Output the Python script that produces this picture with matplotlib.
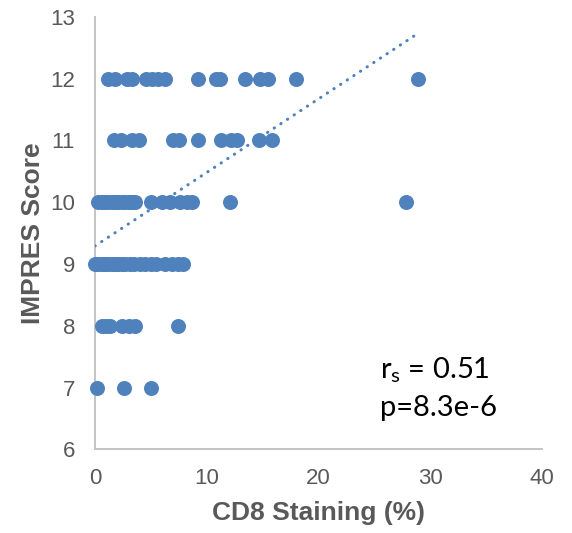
import matplotlib
matplotlib.use("Agg")
import matplotlib.pyplot as plt
import numpy as np

# ---- data ----
cd8_row12 = [1.2, 1.8, 2.9, 3.3, 4.6, 5.1, 5.6, 6.3, 9.2, 10.8, 11.2, 13.4, 14.8, 15.5, 18.0, 28.9]
cd8_row11 = [1.7, 2.3, 3.3, 3.9, 7.0, 7.5, 9.2, 11.3, 12.2, 12.7, 14.7, 15.8]
cd8_row10 = [0.3, 0.6, 0.9, 1.2, 1.5, 1.8, 2.1, 2.4, 2.7, 3.0, 3.3, 3.6,
             5.0, 6.0, 6.7, 7.6, 8.2, 8.7, 12.1, 27.8]
cd8_row9 = [0.0, 0.3, 0.6, 0.9, 1.2, 1.5, 1.8, 2.1, 2.4, 2.7, 3.1, 3.5,
            4.0, 4.5, 5.0, 5.5, 6.3, 6.9, 7.4, 7.9]
cd8_row8 = [0.6, 1.0, 1.3, 2.4, 3.0, 3.6, 7.4]
cd8_row7 = [0.2, 2.6, 5.0]
impres_levels = [12, 11, 10, 9, 8, 7]

trend_intercept = 9.29
trend_slope = 0.119

x_ticks = [0, 10, 20, 30, 40]
y_ticks = [6, 7, 8, 9, 10, 11, 12, 13]

annot_line1 = r"r$_{\mathrm{s}}$ = 0.51"
annot_line2 = "p=8.3e-6"

rows = [cd8_row12, cd8_row11, cd8_row10, cd8_row9, cd8_row8, cd8_row7]
x = np.concatenate([np.array(r, float) for r in rows])
y = np.concatenate([np.full(len(r), lvl, float) for r, lvl in zip(rows, impres_levels)])

plt.rcParams['mathtext.fontset'] = 'custom'
plt.rcParams['mathtext.rm'] = 'Lato'

blue = '#4F81BD'
grey_txt = '#595959'

fig = plt.figure(figsize=(5.72, 5.33), dpi=100)
ax = fig.add_axes([95/572, 1-449.3/533, (542-95)/572, (449.3-16.7)/533])

ax.scatter(x, y, s=10.8**2, color=blue, linewidths=0, zorder=3, clip_on=False)

tx = np.array([x.min(), x.max()])
ax.plot(tx, trend_intercept + trend_slope*tx, color=blue, lw=2.2,
        linestyle=(0, (0.1, 2.5)), dash_capstyle='round', zorder=4)

ax.set_xlim(0, 40)
ax.set_ylim(6, 13)
ax.set_xticks(x_ticks)
ax.set_yticks(y_ticks)
ax.tick_params(length=0, labelsize=16, labelcolor=grey_txt, labelfontfamily='Liberation Sans')
ax.tick_params(axis='x', pad=13.3)
ax.tick_params(axis='y', pad=14.4)

for s in ['top', 'right']:
    ax.spines[s].set_visible(False)
for s in ['left', 'bottom']:
    ax.spines[s].set_color('#BFBFBF')
    ax.spines[s].set_linewidth(1.3)

ax.set_xlabel('CD8 Staining (%)', fontsize=19, fontweight='bold', color=grey_txt,
              family='Liberation Sans')
ax.set_ylabel('IMPRES Score', fontsize=19, fontweight='bold', color=grey_txt,
              family='Liberation Sans')
ax.xaxis.set_label_coords(0.5, -0.12)
ax.yaxis.set_label_coords(-0.112, 0.5)

ax.text(0.638, 0.164, annot_line1, transform=ax.transAxes, fontsize=21,
        family='Lato', color='black', va='baseline', ha='left')
ax.text(0.638, 0.078, annot_line2, transform=ax.transAxes, fontsize=21,
        family='Lato', color='black', va='baseline', ha='left')

fig.savefig('out.png', dpi=100)
